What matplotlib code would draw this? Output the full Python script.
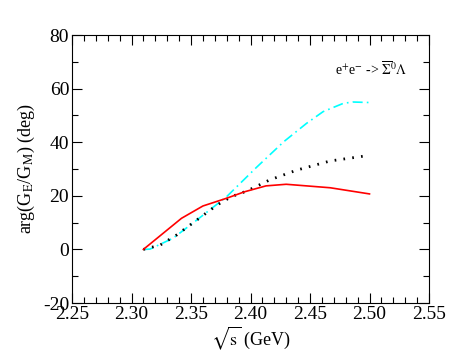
import matplotlib
matplotlib.use("Agg")
import matplotlib.pyplot as plt
from matplotlib.ticker import MultipleLocator

plt.rcParams['font.family'] = ['Liberation Serif', 'DejaVu Serif']
plt.rcParams['mathtext.fontset'] = 'stix'
plt.rcParams['axes.unicode_minus'] = False

red_x = [2.31, 2.342, 2.360, 2.380, 2.395, 2.413, 2.430, 2.467, 2.500]
red_y = [0.0, 11.6, 16.2, 19.1, 21.5, 23.7, 24.3, 23.0, 20.7]

cyan_x = [2.31, 2.3155, 2.335, 2.355, 2.380, 2.405, 2.428, 2.447, 2.461, 2.478, 2.486, 2.500]
cyan_y = [0.0, 0.1, 4.2, 11.0, 19.7, 30.6, 40.2, 47.0, 51.4, 54.5, 55.0, 54.8]

black_x = [2.31, 2.324, 2.338, 2.355, 2.372, 2.384, 2.397, 2.416, 2.439, 2.467, 2.500]
black_y = [0.0, 1.6, 5.4, 11.0, 16.6, 19.7, 21.8, 25.9, 29.6, 33.0, 35.1]

xticks = [2.25, 2.30, 2.35, 2.40, 2.45, 2.50, 2.55]
yticks = [-20, 0, 20, 40, 60, 80]

fig = plt.figure(figsize=(4.63, 3.58), dpi=100)
ax = fig.add_axes([72/463, 1-303/358, (429-72)/463, (303-35)/358])

ax.plot(cyan_x, cyan_y, color='#00ffff', lw=1.2, linestyle=(0, (6, 2.5, 1, 2.5)))
ax.plot(black_x, black_y, color='black', lw=2.0, linestyle=(0, (0.6, 2.6)), dash_capstyle='butt')
ax.plot(red_x, red_y, color='red', lw=1.2)

ax.set_xlim(2.25, 2.55)
ax.set_ylim(-20, 80)
ax.set_xticks(xticks)
ax.set_xticklabels([f"{v:.2f}" for v in xticks])
ax.set_yticks(yticks)
ax.xaxis.set_minor_locator(MultipleLocator(0.01))
ax.yaxis.set_minor_locator(MultipleLocator(10))
ax.tick_params(which='both', direction='in', top=True, right=True, labelsize=14, pad=2)
ax.tick_params(which='major', length=7, width=0.8)
ax.tick_params(which='minor', length=4, width=0.8)

ax.set_xlabel(r'$\sqrt{\rm s}$ (GeV)', fontsize=13, labelpad=1)
ax.set_ylabel(r'arg(G$_{\rm E}$/G$_{\rm M}$) (deg)', fontsize=13, labelpad=4)
ax.text(2.471, 67, r'e$^{+}$e$^{-}$ -> $\overline{\Sigma}^{0}\Lambda$', fontsize=10, va='center', ha='left')

fig.savefig('out.png', dpi=100)
